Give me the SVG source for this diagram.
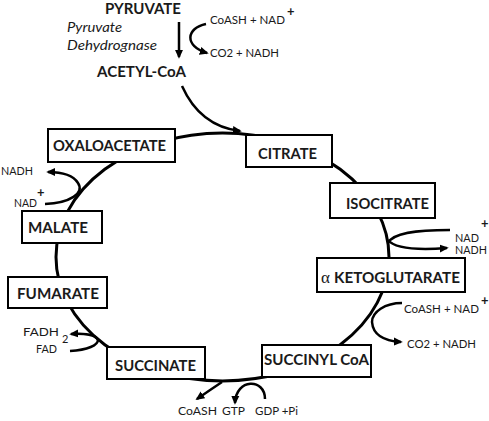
<svg xmlns="http://www.w3.org/2000/svg" width="489" height="421" viewBox="0 0 489 421">
<style>
.box{fill:#fff;stroke:#000;stroke-width:2}
.t{font-family:Lato,"Open Sans","Liberation Sans",sans-serif;fill:#1a1a1a}
.lbl{font-weight:bold;font-size:14.5px}
.sm{font-size:12px}
.xs{font-size:11px}
.xxs{font-size:10.5px}
.it{font-style:italic;font-size:13.5px}
.sup{font-weight:bold;font-size:13px}
.cyc{fill:none;stroke:#000;stroke-width:3}
.arr{fill:none;stroke:#000;stroke-width:2.5;marker-end:url(#ah)}
.ln{fill:none;stroke:#000;stroke-width:2.5}
</style>
<defs>
<marker id="ah" viewBox="0 0 10 10" refX="8" refY="5" markerWidth="9" markerHeight="9" markerUnits="userSpaceOnUse" orient="auto">
<path d="M0,0.5 L10,5 L0,9.5 z" fill="#000"/>
</marker>
</defs>
<rect width="489" height="421" fill="#fff"/>
<g id="connectors">
<ellipse class="cyc" cx="222.5" cy="257" rx="166.5" ry="124"/>
<path class="arr" d="M179,22 L179,57"/>
<path class="arr" d="M206,24 C186,28 184,46 207,53"/>
<path class="arr" d="M182,86 C195,115 215,128 240,131"/>
<path class="arr" d="M45,204 C70,203 85,193 78,183 C73,175 62,172 48,172"/>
<path class="ln" d="M450,230 C415,230 393,233 388,243"/>
<path class="arr" d="M388,240 C395,249 420,250 447,248"/>
<path class="arr" d="M402,303 C385,303 372,312 372,322 C373,335 385,341 401,342"/>
<path class="ln" d="M70,351 C88,350 98,345 98,340"/>
<path class="arr" d="M98,340 C96,335 85,333 71,334"/>
<path class="arr" d="M222,382 Q210,390 197,399"/>
<path class="arr" d="M265,399 C265,378 236,378 235,403"/>
</g>
<g id="pyruvate"><text class="t lbl" x="105" y="14" textLength="76" lengthAdjust="spacingAndGlyphs">PYRUVATE</text></g>
<g id="enzyme">
<text class="t it" x="67" y="32" textLength="55" lengthAdjust="spacingAndGlyphs">Pyruvate</text>
<text class="t it" x="67" y="50" textLength="90" lengthAdjust="spacingAndGlyphs">Dehydrognase</text>
</g>
<g id="acetylcoa"><text class="t lbl" x="97" y="77" textLength="89" lengthAdjust="spacingAndGlyphs">ACETYL-CoA</text></g>
<g id="pdh-cofactors">
<text class="t sm" x="210" y="24" textLength="75" lengthAdjust="spacingAndGlyphs">CoASH + NAD</text>
<text class="t sup" x="287" y="16">+</text>
<text class="t sm" x="210" y="57" textLength="69" lengthAdjust="spacingAndGlyphs">CO2 + NADH</text>
</g>
<g id="oxaloacetate"><rect class="box" x="48" y="129" width="127" height="33"/><text class="t lbl" x="53" y="151" textLength="113" lengthAdjust="spacingAndGlyphs">OXALOACETATE</text></g>
<g id="citrate"><rect class="box" x="246" y="135" width="86" height="32"/><text class="t lbl" x="258" y="159" textLength="59" lengthAdjust="spacingAndGlyphs">CITRATE</text></g>
<g id="isocitrate"><rect class="box" x="330" y="183" width="105" height="35"/><text class="t lbl" x="346" y="209" textLength="83" lengthAdjust="spacingAndGlyphs">ISOCITRATE</text></g>
<g id="ketoglutarate"><rect class="box" x="317" y="258" width="148" height="34"/><text x="321" y="283" font-family="'Liberation Serif',serif" font-size="17" fill="#1a1a1a">α</text><text class="t lbl" x="334" y="283" textLength="126" lengthAdjust="spacingAndGlyphs">KETOGLUTARATE</text></g>
<g id="malate"><rect class="box" x="22" y="211" width="80" height="32"/><text class="t lbl" x="28" y="233" textLength="60" lengthAdjust="spacingAndGlyphs">MALATE</text></g>
<g id="fumarate"><rect class="box" x="8" y="277" width="99" height="31"/><text class="t lbl" x="17" y="299" textLength="82" lengthAdjust="spacingAndGlyphs">FUMARATE</text></g>
<g id="succinate"><rect class="box" x="107" y="347" width="98" height="32"/><text class="t lbl" x="115" y="371" textLength="81" lengthAdjust="spacingAndGlyphs">SUCCINATE</text></g>
<g id="succinylcoa"><rect class="box" x="262" y="345" width="109" height="32"/><text class="t lbl" x="264" y="365" textLength="105" lengthAdjust="spacingAndGlyphs">SUCCINYL CoA</text></g>
<g id="malate-cofactors">
<text class="t xs" x="1" y="175" textLength="32" lengthAdjust="spacingAndGlyphs">NADH</text>
<text class="t xs" x="14" y="207" textLength="23" lengthAdjust="spacingAndGlyphs">NAD</text>
<text class="t sup" x="37" y="197">+</text>
</g>
<g id="isocitrate-cofactors">
<text class="t xxs" x="455" y="242" textLength="24" lengthAdjust="spacingAndGlyphs">NAD</text>
<text class="t sup" x="481" y="228">+</text>
<text class="t xxs" x="455" y="254" textLength="32" lengthAdjust="spacingAndGlyphs">NADH</text>
</g>
<g id="kg-cofactors">
<text class="t sm" x="404" y="313" textLength="75" lengthAdjust="spacingAndGlyphs">CoASH + NAD</text>
<text class="t sup" x="481" y="305">+</text>
<text class="t sm" x="407" y="348" textLength="69" lengthAdjust="spacingAndGlyphs">CO2 + NADH</text>
</g>
<g id="succinate-cofactors">
<text class="t sm" x="23" y="336" textLength="36" lengthAdjust="spacingAndGlyphs">FADH</text>
<text class="t xs" x="62" y="343">2</text>
<text class="t sm" x="36" y="353" textLength="21" lengthAdjust="spacingAndGlyphs">FAD</text>
</g>
<g id="succinylcoa-cofactors">
<text class="t xs" x="178" y="415" textLength="39" lengthAdjust="spacingAndGlyphs">CoASH</text>
<text class="t xs" x="222" y="415" textLength="23" lengthAdjust="spacingAndGlyphs">GTP</text>
<text class="t xs" x="255" y="415" textLength="43" lengthAdjust="spacingAndGlyphs">GDP +Pi</text>
</g>
</svg>
